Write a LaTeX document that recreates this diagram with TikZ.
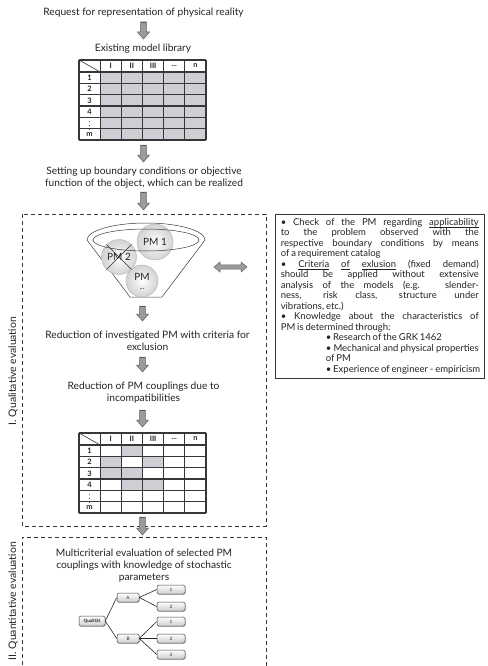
\documentclass[tikz,border=0pt]{standalone}
\usepackage{fontspec}
\setmainfont{Lato}
\usetikzlibrary{calc,shadows}
\definecolor{txt}{RGB}{35,35,35}
\definecolor{arrfill}{RGB}{155,155,155}
\definecolor{arrdraw}{RGB}{95,95,95}
\definecolor{cellgray}{RGB}{206,206,213}
\definecolor{linegray}{RGB}{55,55,55}
\newcommand\blkdown[2]{\filldraw[arrstyle] let \p1=(#1), \p2=(#2) in
  (\x1-2.8pt,\y1) -- (\x1+2.8pt,\y1) -- (\x1+2.8pt,\y2+7pt) -- (\x1+6pt,\y2+7pt) -- (\x1,\y2)
  -- (\x1-6pt,\y2+7pt) -- (\x1-2.8pt,\y2+7pt) -- cycle;
  \draw[arrdraw, line width=1.3pt] let \p1=(#1) in (\x1-2.8pt,\y1-0.6pt) -- (\x1+2.8pt,\y1-0.6pt);}
\newcommand\libtable[3]{% #1 name, #2 top y, #3 gray cells c/r
  \node[minimum width=127pt, minimum height=80pt, anchor=north west] (#1) at (79,#2) {};
  \foreach \cc/\rr in {#3}
    \fill[cellgray] (79+21.17*\cc,#2+12+11.33*\rr-11.33) rectangle ++(21.17,11.33);
  \foreach \i in {0,...,6}
    \draw[tabline] (79+21.17*\i,#2) -- (79+21.17*\i,#2+80);
  \draw[tabline] (79,#2) -- (206,#2);
  \foreach \k in {0,...,6}
    \draw[tabline] (79,#2+12+11.33*\k) -- (206,#2+12+11.33*\k);
  \draw[linegray, line width=0.6pt] (79,#2) -- (100.17,#2+12);
  \foreach \lab [count=\i] in {I,II,III,\textbf{...},n}
    \node[tabfont] at (89.6+21.17*\i,#2+6) {\lab};
  \foreach \lab [count=\k] in {1,2,3,4,{\fontsize{6.5}{6.5}\selectfont\vdots},m}
    \node[tabfont] at (89.6,#2+12+11.33*\k-5.67) {\lab};
}
\newcommand\myul[1]{\setbox0\hbox{#1}\rlap{\rule[-1.6pt]{\wd0}{0.45pt}}\box0\relax}
\begin{document}
\begin{tikzpicture}[x=1pt,y=-1pt,
  every node/.style={text=txt, inner sep=0pt},
  maintext/.style={align=center, font=\fontsize{10.2}{12}\selectfont},
  tabfont/.style={font=\fontsize{7.5}{8}\selectfont\bfseries},
  tabline/.style={linegray, line width=1.1pt},
  arrstyle/.style={fill=arrfill, draw=arrdraw, line width=0.5pt},
  dashbox/.style={draw=linegray, line width=0.9pt, dash pattern=on 4pt off 3pt},
  pmball/.style={circle, draw=gray!55, line width=0.5pt, inner color=white, outer color=gray!35, font=\fontsize{10}{10}\selectfont, align=center},
  treebox/.style={draw=gray!50!black, line width=0.5pt, rounded corners=1.5pt, top color=white, bottom color=gray!40,
     minimum height=9pt, font=\fontsize{4.6}{5}\selectfont,
     drop shadow={shadow xshift=0.8pt, shadow yshift=-0.8pt, opacity=0.35}},
  treeline/.style={draw=gray!30!black, line width=0.6pt},
  vlabel/.style={rotate=90, font=\fontsize{10.4}{12}\selectfont}]
\useasboundingbox (0,0) rectangle (487,666);

% top flow
\node[maintext] (req) at (143.5,13) {Request for representation of physical reality};
\coordinate (a1t) at (143.5,22); \coordinate (a1b) at (143.5,39);
\blkdown{a1t}{a1b}
\node[maintext] (lib) at (143,49) {Existing model library};
\libtable{tab1}{60}{1/1,2/1,3/1,4/1,5/1,1/2,2/2,3/2,4/2,5/2,1/3,2/3,3/3,4/3,5/3,1/4,2/4,3/4,4/4,5/4,1/5,2/5,3/5,4/5,5/5,1/6,2/6,3/6,4/6,5/6}
\coordinate (a2t) at (143.5,145); \coordinate (a2b) at (143.5,162);
\blkdown{a2t}{a2b}
\node[maintext] (setup) at (144,178) {Setting up boundary conditions or objective\\function of the object, which can be realized};
\coordinate (a3t) at (143.5,192); \coordinate (a3b) at (143.5,210);
\blkdown{a3t}{a3b}

% box I
\draw[dashbox] (22,214) rectangle (266,526);
\node[vlabel] (lab1) at (13,371) {I. Qualitative evaluation};

% funnel
\draw[linegray, line width=0.5pt] (87,240) arc[start angle=180, end angle=360, x radius=59, y radius=17]
   -- (162,297) -- (130,297) -- cycle;
\node[pmball, minimum size=36pt] (pm1) at (155,242) {PM 1};
\node[pmball, minimum size=35pt] (pm2) at (119,257) {PM 2};
\node[pmball, minimum size=32pt] (pm3) at (142,281) {PM\\[-1pt]{\fontsize{7}{7}\selectfont ...}};
\draw[gray!35!black, line width=0.5pt] (pm2.north west) -- (pm2.south east) (pm2.north east) -- (pm2.south west);
\draw[linegray, line width=0.5pt] (146,240) ellipse[x radius=53, y radius=11];

% double arrow
\filldraw[arrstyle] (214,267) -- (220,262) -- (220,264.8) -- (241,264.8) -- (241,262) -- (247,267)
  -- (241,272) -- (241,269.2) -- (220,269.2) -- (220,272) -- cycle;

\coordinate (a4t) at (142.5,306); \coordinate (a4b) at (142.5,321);
\blkdown{a4t}{a4b}
\node[maintext] (red1) at (147.5,341) {Reduction of investigated PM with criteria for\\exclusion};
\coordinate (a5t) at (142.5,357); \coordinate (a5b) at (142.5,372);
\blkdown{a5t}{a5b}
\node[maintext] (red2) at (143.5,393) {Reduction of PM couplings due to\\incompatibilities};
\coordinate (a6t) at (142.5,410); \coordinate (a6b) at (142.5,427);
\blkdown{a6t}{a6b}
\libtable{tab2}{433}{2/1,1/2,3/2,1/3,2/3,2/4,3/4}
\coordinate (a7t) at (142.5,517); \coordinate (a7b) at (142.5,535);
\blkdown{a7t}{a7b}

% notes
\node[draw=linegray, line width=0.6pt, anchor=north west, inner xsep=5.5pt, inner ysep=0pt,
  minimum width=209pt, minimum height=164pt] (notes) at (275,214) {%
\parbox{198pt}{\fontsize{9.5}{10.5}\selectfont
\parindent=0pt \tolerance=10000 \hyphenpenalty=10000 \exhyphenpenalty=10000
\spaceskip=0.2em plus 2em minus 0.03em
• Check of the PM regarding \myul{applicability}\linebreak
to the problem observed with the\linebreak
respective boundary conditions by means\linebreak
of a requirement catalog\par
• \myul{Criteria} \myul{of} \myul{exlusion} (fixed demand)\linebreak
should be applied without extensive\linebreak
analysis of the models (e.g. slender-\linebreak
ness, risk class, structure under\linebreak
vibrations, etc.)\par
• Knowledge about the characteristics of\linebreak
PM is determined through:\par
\leftskip=45pt
\mbox{• Research of the GRK 1462}\par
\makebox[153pt][s]{• Mechanical and physical properties}\par
of PM\par
\mbox{• Experience of engineer - empiricism}\par}};

% box II
\draw[dashbox] (22,672) -- (22,537) -- (266,537) -- (266,672);
\node[vlabel] (lab2) at (13,601) {II. Quantitative evaluation};
\node[maintext] (multi) at (144,566) {Multicriterial evaluation of selected PM\\couplings with knowledge of stochastic\\parameters};

% tree
\node[treebox, minimum width=26pt, minimum height=10pt] (q) at (92,621) {\bfseries Qualität};
\node[treebox, minimum width=22pt] (A) at (128,597.5) {A};
\node[treebox, minimum width=22pt] (B) at (128,638.5) {B};
\node[treebox, minimum width=28pt] (a1) at (171,589.5) {1};
\node[treebox, minimum width=28pt] (a2) at (171,606.5) {2};
\node[treebox, minimum width=28pt] (b1) at (171,621.5) {1};
\node[treebox, minimum width=28pt] (b2) at (171,638.5) {2};
\node[treebox, minimum width=28pt] (b3) at (171,654.5) {3};
\draw[treeline] (q.east) -- (A.west) (q.east) -- (B.west);
\draw[treeline] (A.east) -- (a1.west) (A.east) -- (a2.west);
\draw[treeline] (B.east) -- (b1.west) (B.east) -- (b2.west) (B.east) -- (b3.west);
\end{tikzpicture}
\end{document}
